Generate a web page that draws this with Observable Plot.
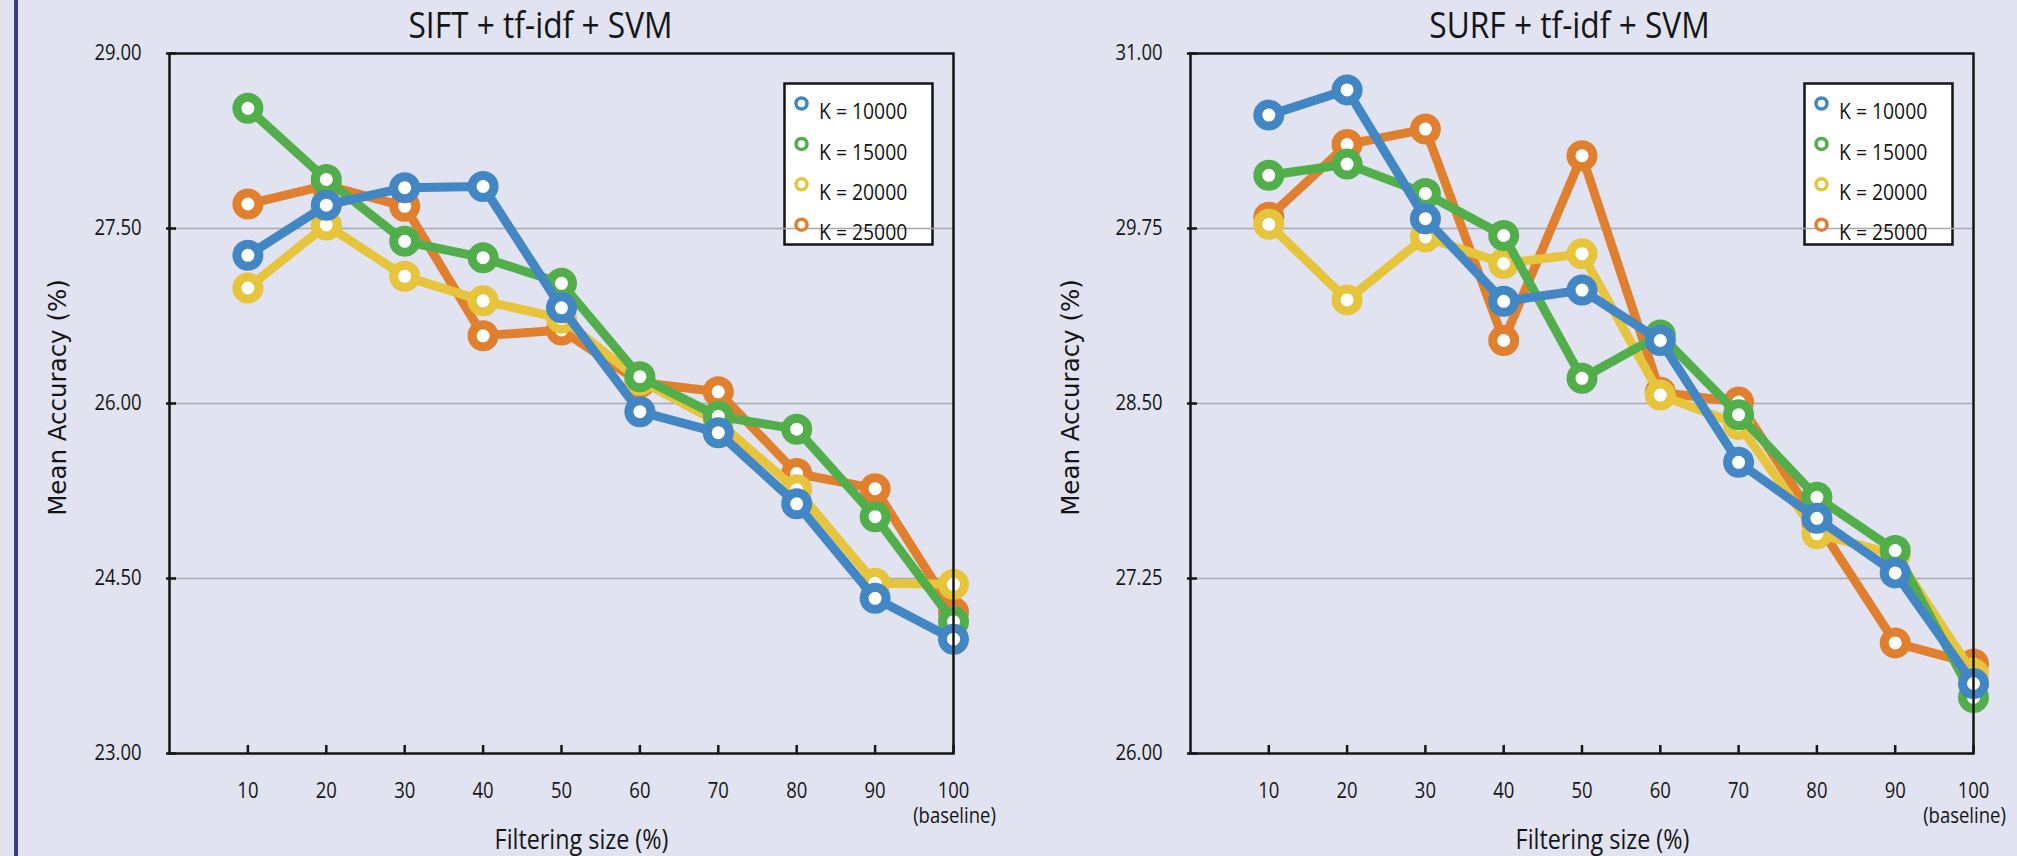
<!DOCTYPE html>
<html>
<head>
<meta charset="utf-8">
<script src="https://cdn.jsdelivr.net/npm/d3@7"></script>
<script src="https://cdn.jsdelivr.net/npm/@observablehq/plot@0.6"></script>
<style>
html, body { margin: 0; padding: 0; background: #e1e3f0; overflow: hidden; }
#wrap { position: relative; width: 2017px; height: 856px; background: #e1e3f0; overflow: hidden; }
#bar { position: absolute; left: 14px; top: 0; width: 4px; height: 856px; background: #3d3a8a; }
#left { position: absolute; left: 0; top: 0; }
#right { position: absolute; left: 1008px; top: 0; }
</style>
</head>
<body>
<div id="wrap"><div id="bar"></div><div id="left"></div><div id="right"></div></div>
<script>
// ---- data ----
const filtering = [10, 20, 30, 40, 50, 60, 70, 80, 90, 100];
const xTickLabels = ["10", "20", "30", "40", "50", "60", "70", "80", "90", "100"];
const baselineNote = "(baseline)";
const seriesNames = ["K = 10000", "K = 15000", "K = 20000", "K = 25000"];
const seriesColors = ["#4286c3", "#52ae4b", "#e6c53c", "#e0802f"];

const siftK10000 = [27.27, 27.70, 27.85, 27.86, 26.82, 25.93, 25.75, 25.14, 24.33, 23.98];
const siftK15000 = [28.53, 27.92, 27.39, 27.25, 27.03, 26.23, 25.89, 25.78, 25.03, 24.13];
const siftK20000 = [26.99, 27.53, 27.09, 26.88, 26.73, 26.20, 25.84, 25.26, 24.46, 24.45];
const siftK25000 = [27.71, 27.87, 27.69, 26.58, 26.63, 26.18, 26.10, 25.40, 25.27, 24.21];

const surfK10000 = [30.56, 30.74, 29.82, 29.23, 29.31, 28.95, 28.08, 27.68, 27.29, 26.50];
const surfK15000 = [30.13, 30.21, 30.00, 29.70, 28.68, 28.99, 28.42, 27.83, 27.45, 26.40];
const surfK20000 = [29.78, 29.24, 29.69, 29.50, 29.57, 28.56, 28.35, 27.57, 27.42, 26.57];
const surfK25000 = [29.83, 30.35, 30.46, 28.95, 30.27, 28.58, 28.51, 27.65, 26.79, 26.64];

const siftYTicks = [23, 24.5, 26, 27.5, 29];
const surfYTicks = [26, 27.25, 28.5, 29.75, 31];

const siftTitle = "SIFT + tf-idf + SVM";
const surfTitle = "SURF + tf-idf + SVM";
const yLabel = "Mean Accuracy (%)";
const xLabel = "Filtering size (%)";

// ---- drawing ----
const SANS = '"Open Sans","Noto Sans",sans-serif';
const WIDE = '"DejaVu Sans",Verdana,sans-serif';
const INK = "#151515";

function makeChart(cfg) {
  const H = 856, mt = 53, mb = 103;
  const innerW = cfg.width - cfg.marginLeft - cfg.marginRight;
  const innerH = H - mt - mb;
  const marks = [];

  // legend box
  marks.push(Plot.frame({fill: "#ffffff", stroke: INK, strokeWidth: 2.5,
    insetLeft: innerW - 169, insetRight: 21, insetTop: 30, insetBottom: innerH - 191}));

  // grid lines (interior ticks)
  marks.push(Plot.gridY(cfg.yTicks.slice(1, -1), {stroke: "#a8a8b0", strokeOpacity: 1, strokeWidth: 1.5}));

  // legend entries
  seriesNames.forEach((name, i) => {
    marks.push(Plot.dot([name], {frameAnchor: "top-right", dx: -152, dy: 50 + i * 40.4,
      r: 5.5, fill: "#ffffff", stroke: seriesColors[i], strokeWidth: 3.5}));
    marks.push(Plot.text([name], {frameAnchor: "top-right", dx: -134.5, dy: 50 + i * 40.4,
      textAnchor: "start", fontSize: 22, fontFamily: SANS, fill: INK}));
  });

  // series: last drawn on top (K=10000 on top)
  for (let s = cfg.series.length - 1; s >= 0; s--) {
    const vals = cfg.series[s];
    const rows = filtering.map((f, i) => ({f, v: vals[i]}));
    marks.push(Plot.line(rows, {x: "f", y: "v", stroke: seriesColors[s], strokeWidth: 9, strokeLinejoin: "round"}));
    marks.push(Plot.dot(rows, {x: "f", y: "v", r: 11, fill: "#ffffff", stroke: seriesColors[s], strokeWidth: 9}));
  }

  // frame and inward ticks
  marks.push(Plot.frame({stroke: INK, strokeWidth: 2.5}));
  marks.push(Plot.tickY(cfg.yTicks, {y: d => d, stroke: INK, strokeWidth: 2.5, insetLeft: -3, insetRight: innerW - 7}));
  marks.push(Plot.tickX(filtering, {x: d => d, stroke: INK, strokeWidth: 2.5, insetTop: innerH - 8}));

  // tick labels
  marks.push(Plot.text(cfg.yTicks, {y: d => d, text: d => d.toFixed(2), frameAnchor: "left", dx: -28,
    textAnchor: "end", fontSize: 21, fontFamily: SANS, fill: INK}));
  marks.push(Plot.text(filtering, {x: d => d, text: (d, i) => xTickLabels[i], frameAnchor: "bottom",
    textAnchor: "middle", lineAnchor: "bottom", dy: 44, fontSize: 21, fontFamily: SANS, fill: INK}));
  marks.push(Plot.text([filtering[filtering.length - 1]], {x: d => d, text: () => baselineNote, frameAnchor: "bottom",
    textAnchor: "middle", lineAnchor: "bottom", dx: cfg.baselineDx, dy: 69, fontSize: 21, fontFamily: SANS, fill: INK}));

  // titles
  marks.push(Plot.text([cfg.title], {frameAnchor: "top", textAnchor: "middle", lineAnchor: "bottom",
    dx: cfg.titleDx, dy: -15.5, fontSize: 36, fontFamily: SANS, fill: INK}));
  marks.push(Plot.text([yLabel], {frameAnchor: "left", textAnchor: "middle", rotate: -90, dx: cfg.yLabelDx, dy: -6,
    fontSize: 24.5, fontFamily: WIDE, fill: INK}));
  marks.push(Plot.text([xLabel], {frameAnchor: "bottom", textAnchor: "middle", lineAnchor: "bottom",
    dx: cfg.xLabelDx, dy: 95, fontSize: 26.5, fontFamily: SANS, fill: INK}));

  return Plot.plot({
    width: cfg.width, height: H,
    marginLeft: cfg.marginLeft, marginRight: cfg.marginRight, marginTop: mt, marginBottom: mb,
    x: {domain: [0, 100], axis: null},
    y: {domain: [cfg.yTicks[0], cfg.yTicks[cfg.yTicks.length - 1]], axis: null},
    style: {background: "none", overflow: "visible", fontFamily: SANS, color: INK},
    marks
  });
}

// narrow the humanist sans to mimic the condensed original face
function condense(svg, k) {
  svg.querySelectorAll("text").forEach(t => {
    if (t.textContent === yLabel) return;
    const len = t.getComputedTextLength();
    if (len > 0) {
      t.setAttribute("textLength", (len * k).toFixed(2));
      t.setAttribute("lengthAdjust", "spacingAndGlyphs");
    }
  });
}

const leftSvg = makeChart({
  title: siftTitle, yTicks: siftYTicks,
  series: [siftK10000, siftK15000, siftK20000, siftK25000],
  width: 1008, marginLeft: 169, marginRight: 55,
  titleDx: -21, yLabelDx: -111, xLabelDx: 20, baselineDx: 1
});
const rightSvg = makeChart({
  title: surfTitle, yTicks: surfYTicks,
  series: [surfK10000, surfK15000, surfK20000, surfK25000],
  width: 1009, marginLeft: 182, marginRight: 44,
  titleDx: -12.5, yLabelDx: -119, xLabelDx: 20.5, baselineDx: -9
});
document.getElementById("left").appendChild(leftSvg);
document.getElementById("right").appendChild(rightSvg);
condense(leftSvg, 0.88);
condense(rightSvg, 0.88);
</script>
</body>
</html>
